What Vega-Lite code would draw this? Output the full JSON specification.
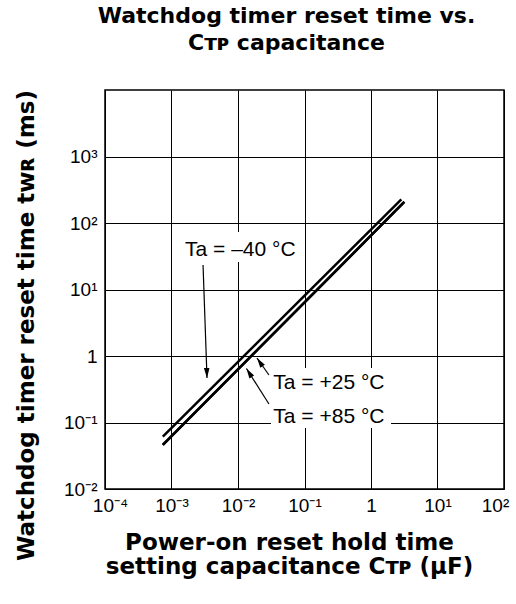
{
  "$schema": "https://vega.github.io/schema/vega-lite/v6.json",
  "autosize": "none",
  "width": 399,
  "height": 399,
  "padding": {"left": 105, "top": 90, "right": 12, "bottom": 115},
  "background": "white",
  "title": {
    "text": ["Watchdog timer reset time vs.", "Cᴛᴘ capacitance"],
    "font": "DejaVu Sans",
    "fontSize": 22,
    "fontWeight": "bold",
    "color": "black",
    "anchor": "middle",
    "frame": "group",
    "dx": -18,
    "offset": 35,
    "lineHeight": 27
  },
  "config": {
    "view": {"stroke": "black", "strokeWidth": 1.5},
    "axis": {
      "grid": true,
      "gridColor": "black",
      "gridOpacity": 1,
      "gridWidth": 1,
      "domain": false,
      "ticks": false,
      "labelFont": "Liberation Sans",
      "labelFontSize": 19,
      "labelColor": "black",
      "labelOverlap": false,
      "titleFont": "DejaVu Sans",
      "titleFontSize": 23,
      "titleFontWeight": "bold",
      "titleColor": "black"
    }
  },
  "datasets": {
    "curves": [
      {"series": "Ta = –40 °C", "x": 0.00074, "y": 0.0611},
      {"series": "Ta = –40 °C", "x": 2.86, "y": 227},
      {"series": "Ta = +25 °C", "x": 0.00074, "y": 0.0459},
      {"series": "Ta = +25 °C", "x": 3.17, "y": 207},
      {"series": "Ta = +85 °C", "x": 0.00074, "y": 0.0459},
      {"series": "Ta = +85 °C", "x": 3.17, "y": 207}
    ],
    "boxes": [
      {"x": 0.00149, "x2": 0.0826, "y": 25.9, "y2": 73.3},
      {"x": 0.0313, "x2": 2.0, "y": 0.0826, "y2": 0.66}
    ],
    "arrows": [
      {"series": "Ta = –40 °C", "x": 0.00342, "y": 0.467, "x2": 0.00298, "y2": 23.3},
      {"series": "Ta = +25 °C", "x": 0.0193, "y": 0.933, "x2": 0.0292, "y2": 0.518},
      {"series": "Ta = +85 °C", "x": 0.0134, "y": 0.649, "x2": 0.0292, "y2": 0.19}
    ],
    "labels": [
      {"text": "Ta = –40 °C", "x": 0.0016, "y": 31.9},
      {"text": "Ta = +25 °C", "x": 0.034, "y": 0.319},
      {"text": "Ta = +85 °C", "x": 0.034, "y": 0.0993}
    ]
  },
  "layer": [
    {
      "data": {"name": "boxes"},
      "mark": {"type": "rect", "fill": "white", "stroke": null},
      "encoding": {
        "x": {
          "field": "x", "type": "quantitative",
          "scale": {"type": "log", "domain": [0.0001, 100], "nice": false},
          "axis": {
            "values": [0.0001, 0.001, 0.01, 0.1, 1, 10, 100],
            "labelExpr": "datum.value < 0.0005 ? '10⁻⁴' : datum.value < 0.005 ? '10⁻³' : datum.value < 0.05 ? '10⁻²' : datum.value < 0.5 ? '10⁻¹' : datum.value < 5 ? '1' : datum.value < 50 ? '10¹' : '10²'",
            "labelFlush": false,
            "labelPadding": 7,
            "labelOffset": {"condition": [{"test": "datum.value > 50", "value": -9}, {"test": "datum.value < 0.0005", "value": 5}], "value": 0},
            "title": ["Power-on reset hold time", "setting capacitance Cᴛᴘ (μF)"],
            "titleX": 184,
            "titleY": 60,
            "titleAlign": "center",
            "titleBaseline": "alphabetic",
            "titleLineHeight": 24
          }
        },
        "x2": {"field": "x2"},
        "y": {
          "field": "y", "type": "quantitative",
          "scale": {"type": "log", "domain": [0.01, 10000], "nice": false},
          "axis": {
            "values": [0.01, 0.1, 1, 10, 100, 1000],
            "labelExpr": "datum.value < 0.05 ? '10⁻²' : datum.value < 0.5 ? '10⁻¹' : datum.value < 5 ? '1' : datum.value < 50 ? '10¹' : datum.value < 500 ? '10²' : '10³'",
            "labelPadding": 8,
            "title": "Watchdog timer reset time tᴡʀ (ms)",
            "titleX": -72,
            "titleY": 235,
            "titleAngle": 270,
            "titleAlign": "center",
            "titleBaseline": "alphabetic"
          }
        },
        "y2": {"field": "y2"}
      }
    },
    {
      "data": {"name": "curves"},
      "mark": {"type": "line", "color": "black", "strokeWidth": 2.5, "strokeCap": "butt"},
      "encoding": {
        "x": {"field": "x", "type": "quantitative", "scale": {"type": "log"}},
        "y": {"field": "y", "type": "quantitative", "scale": {"type": "log"}},
        "detail": {"field": "series", "type": "nominal"}
      }
    },
    {
      "data": {"name": "arrows"},
      "mark": {"type": "rule", "color": "black", "strokeWidth": 1.2},
      "encoding": {
        "x": {"field": "x", "type": "quantitative", "scale": {"type": "log"}},
        "y": {"field": "y", "type": "quantitative", "scale": {"type": "log"}},
        "x2": {"field": "x2"},
        "y2": {"field": "y2"}
      }
    },
    {
      "data": {"name": "arrows"},
      "mark": {"type": "point", "filled": true, "color": "black", "opacity": 1, "shape": "M0,0L-0.28,1L0.28,1Z", "size": 400, "strokeWidth": 0},
      "encoding": {
        "x": {"field": "x", "type": "quantitative", "scale": {"type": "log"}},
        "y": {"field": "y", "type": "quantitative", "scale": {"type": "log"}},
        "angle": {
          "field": "series", "type": "nominal",
          "scale": {"type": "ordinal", "domain": ["Ta = –40 °C", "Ta = +25 °C", "Ta = +85 °C"], "range": [178, 326, 328]},
          "legend": null
        }
      }
    },
    {
      "data": {"name": "labels"},
      "mark": {"type": "text", "font": "Liberation Sans", "fontSize": 21, "color": "black", "align": "left", "baseline": "alphabetic"},
      "encoding": {
        "x": {"field": "x", "type": "quantitative", "scale": {"type": "log"}},
        "y": {"field": "y", "type": "quantitative", "scale": {"type": "log"}},
        "text": {"field": "text"}
      }
    }
  ]
}
